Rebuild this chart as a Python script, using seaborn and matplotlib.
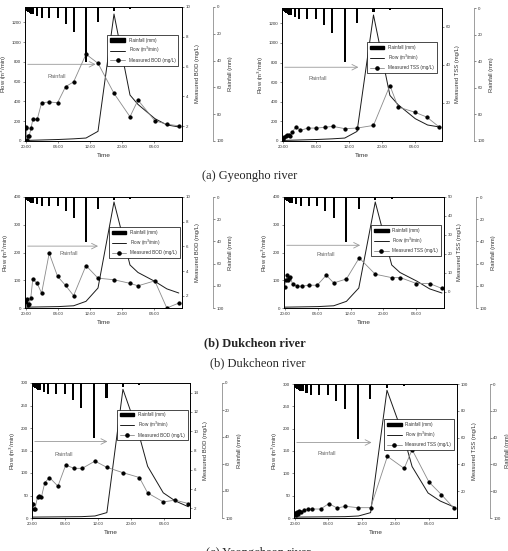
import seaborn as sns
import matplotlib.pyplot as plt
from matplotlib.patches import Patch
from matplotlib.lines import Line2D
from matplotlib.ticker import MultipleLocator

# --- rainfall (same storm event on every panel), hours after 20:00 ---
rain_hours = [0.1, 0.35, 0.6, 0.85, 1.1, 1.35, 1.6, 1.85, 2.8, 3.9, 5.8, 7.9, 9.9, 11.9, 15.0, 18.0, 22.0, 26.0]
rain_mm = [2.5, 3.0, 3.5, 4.0, 4.5, 5.0, 5.0, 5.5, 6.5, 8.4, 8.0, 8.0, 12.7, 18.8, 40.8, 11.0, 2.7, 1.5]

# --- (a) Gyeongho river ---
flow_a_hours = [0, 8, 11.9, 15.0, 18.0, 22.0, 26.0, 28.0, 32.2, 35.2, 38.2]
flow_a = [6, 15, 22, 30, 98, 1285, 465, 370, 227, 163, 142]
bod_a_hours = [0, 0.1, 0.2, 0.6, 0.8, 1.25, 1.7, 2.8, 3.9, 5.8, 7.9, 9.9, 11.9, 15.0, 18.0, 22.0, 26.0, 28.0, 32.2, 35.2, 38.2]
bod_a = [1.84, 1.95, 1.06, 1.33, 1.35, 1.84, 2.45, 2.45, 3.57, 3.62, 3.57, 4.65, 4.97, 6.83, 6.22, 4.2, 2.63, 3.75, 2.36, 2.13, 2.02]
tss_a_hours = [0, 0.3, 0.65, 1.0, 1.3, 1.6, 2.2, 3.1, 4.2, 6.0, 8.1, 10.1, 12.1, 15.0, 18.0, 22.0, 26.0, 28.0, 32.0, 35.0, 38.0]
tss_a = [1.2, 2.1, 2.5, 3.0, 3.0, 2.5, 4.7, 7.4, 5.6, 6.8, 6.8, 7.2, 7.7, 6.5, 6.8, 8.2, 29.2, 17.9, 15.2, 12.6, 7.4]

# --- (b) Dukcheon river ---
flow_b_hours = [0, 8, 11.9, 15.0, 18.0, 22.0, 26.0, 28.0, 32.2, 35.2, 38.2]
flow_b = [3, 5, 8, 24, 72, 382, 155, 128, 96, 69, 54]
bod_b_hours = [0, 0.2, 0.5, 0.75, 1.2, 1.7, 2.8, 3.9, 5.8, 7.9, 9.9, 11.9, 15.0, 18.0, 22.0, 26.0, 28.0, 32.2, 35.2, 38.2]
bod_b = [1.46, 1.73, 1.27, 1.33, 1.84, 3.34, 3.0, 2.2, 5.44, 3.56, 2.83, 2.0, 4.44, 3.42, 3.29, 3.0, 2.8, 3.2, 1.0, 1.4]
tss_b_hours = [0, 0.3, 0.57, 0.8, 1.1, 1.4, 1.9, 3.1, 4.1, 6.0, 7.9, 10.1, 11.9, 15.0, 18.1, 22.0, 26.0, 28.1, 32.0, 35.2, 38.2]
tss_b = [2.6, 6.5, 8.8, 6.1, 7.4, 7.9, 4.0, 3.0, 3.0, 3.5, 3.5, 8.8, 4.7, 6.8, 17.9, 9.3, 7.5, 7.5, 4.4, 4.4, 1.8]

# --- (c) Yeongcheon river ---
flow_c_hours = [0, 12.0, 15.2, 18.1, 22.0, 26.0, 28.0, 31.8, 34.7, 37.9]
flow_c = [2, 3, 4.5, 12, 286, 182, 115, 56, 38, 25]
bod_c_hours = [0, 0.15, 0.35, 0.6, 1.25, 1.7, 2.2, 3.0, 4.15, 6.2, 8.1, 10.1, 12.1, 15.2, 18.1, 22.0, 26.0, 28.0, 31.8, 34.7, 37.9]
bod_c = [2.45, 2.45, 1.9, 1.9, 3.2, 3.3, 3.2, 4.65, 5.2, 4.3, 6.5, 6.15, 6.15, 6.9, 6.25, 5.7, 5.2, 3.6, 2.67, 2.85, 2.5]
tss_c_hours = [0, 0.24, 0.5, 0.8, 1.1, 1.4, 2.2, 3.2, 4.2, 6.2, 8.1, 10.1, 12.1, 15.1, 18.1, 22.1, 26.1, 28.0, 32.0, 35.0, 37.9]
tss_c = [3.7, 2.5, 4.2, 3.2, 5.0, 4.2, 6.2, 6.7, 6.7, 6.7, 10.7, 7.5, 8.7, 7.7, 7.7, 46, 37, 51, 26.9, 17.4, 7.5]

time_ticks = [0, 8, 16, 24, 32]
time_labels = ['20:00', '04:00', '12:00', '20:00', '04:00']

W, H = 508, 551
TXT = '#333333'

sns.set_style('ticks')
plt.rcParams['font.family'] = ['Liberation Sans', 'DejaVu Sans']

fig = plt.figure(figsize=(W / 100, H / 100), dpi=100)


def px_rect(l, r, t, b):
    return [l / W, 1 - b / H, (r - l) / W, (b - t) / H]


def draw_panel(box, xlim, fh, fv, flim, fticks, mh, mv, mlim, mticks, name,
               arrow_y, arrow_end, lab_xy, leg_anchor):
    ax = fig.add_axes(px_rect(*box))
    ax2 = ax.twinx()
    ax3 = ax.twinx()

    sns.lineplot(x=fh, y=fv, ax=ax, color='#1a1a1a', lw=0.7, estimator=None, sort=False, legend=False)
    sns.lineplot(x=mh, y=mv, ax=ax2, color='#8a8a8a', lw=0.6, marker='o', markersize=2.3,
                 markerfacecolor='black', markeredgecolor='black', estimator=None, sort=False, legend=False)
    ax3.bar(rain_hours, rain_mm, width=0.5, color='black', linewidth=0)

    ax.set_xlim(*xlim)
    ax.set_ylim(*flim)
    ax.set_yticks(fticks)
    ax2.set_ylim(*mlim)
    ax2.set_yticks(mticks)
    ax3.set_ylim(100, 0)
    ax3.set_yticks(range(0, 101, 20))

    ax.set_xticks(time_ticks)
    ax.set_xticklabels(time_labels)
    ax.xaxis.set_minor_locator(MultipleLocator(4))

    ax.set_xlabel('Time', fontsize=4.6, color=TXT, labelpad=3)
    ax.set_ylabel('Flow (m$^3$/min)', fontsize=4.2, color=TXT, labelpad=2)
    ax2.set_ylabel(f'Measured {name} (mg/L)', fontsize=4.2, color=TXT, labelpad=3)
    ax3.set_ylabel('Rainfall (mm)', fontsize=4.2, color=TXT, labelpad=3)

    for a in (ax, ax2, ax3):
        a.tick_params(labelsize=3.2, length=1.6, width=0.4, colors=TXT, pad=1)
        a.tick_params(which='minor', length=1.0, width=0.3)
        for s in a.spines.values():
            s.set_linewidth(0.6)
            s.set_color('black')
    ax2.patch.set_visible(False)
    ax3.patch.set_visible(False)
    for s in ('left', 'top', 'bottom'):
        ax3.spines[s].set_visible(False)
    ax3.spines['right'].set_position(('axes', 1.2))
    ax3.spines['right'].set_color('#777777')
    ax3.spines['right'].set_linewidth(0.5)

    ax.annotate('', xy=(arrow_end, arrow_y), xytext=(xlim[0], arrow_y),
                arrowprops=dict(arrowstyle='->', color='#999999', lw=0.6))
    ax.text(lab_xy[0], lab_xy[1], 'Rainfall', fontsize=4, color='#666666', ha='center', va='center')

    handles = [
        Patch(facecolor='black', edgecolor='black', label='Rainfall (mm)'),
        Line2D([], [], color='#1a1a1a', lw=0.7, label='Flow (m$^3$/min)'),
        Line2D([], [], color='#8a8a8a', lw=0.6, marker='o', ms=2.3, mfc='black', mec='black',
               label=f'Measured {name} (mg/L)'),
    ]
    leg = ax3.legend(handles=handles, loc='upper right', bbox_to_anchor=leg_anchor, fontsize=3.3,
                     frameon=True, fancybox=False, edgecolor='black', framealpha=1,
                     borderpad=0.6, handlelength=3.2, labelspacing=0.55, handletextpad=0.8)
    leg.get_frame().set_linewidth(0.5)
    for t in leg.get_texts():
        t.set_color(TXT)


draw_panel((25, 182, 7, 141), (-0.25, 39.0), flow_a_hours, flow_a, (0, 1356), range(0, 1201, 200),
           bod_a_hours, bod_a, (1, 10), [2, 4, 6, 8, 10], 'BOD', 776, 18.1, (7.7, 655), (0.99, 0.81))
draw_panel((282, 442, 8, 141), (-0.3, 38.7), flow_a_hours, flow_a, (0, 1356), range(0, 1201, 200),
           tss_a_hours, tss_a, (0, 70), [20, 40, 60], 'TSS', 752, 19.0, (8.3, 634), (0.98, 0.76))
draw_panel((25, 182, 197, 308), (-0.25, 39.0), flow_b_hours, flow_b, (0, 400), range(0, 401, 100),
           bod_b_hours, bod_b, (1, 10), [2, 4, 6, 8, 10], 'BOD', 223, 18.7, (10.6, 197), (1.0, 0.75))
draw_panel((284, 444, 197, 308), (-0.17, 38.7), flow_b_hours, flow_b, (0, 400), range(0, 401, 100),
           tss_b_hours, tss_b, (-8.5, 50), range(0, 51, 10), 'TSS', 226, 19.0, (9.95, 194), (0.995, 0.765))
draw_panel((32, 190, 383, 518), (-0.1, 38.3), flow_c_hours, flow_c, (0, 300), range(0, 301, 50),
           bod_c_hours, bod_c, (1, 15), range(2, 15, 2), 'BOD', 170, 18.9, (7.5, 142), (1.0, 0.82))
draw_panel((294, 457, 384, 518), (-0.17, 38.7), flow_c_hours, flow_c, (0, 300), range(0, 301, 50),
           tss_c_hours, tss_c, (0, 100), range(20, 101, 20), 'TSS', 169, 19.0, (7.6, 145), (0.995, 0.755))

serif = ['Liberation Serif', 'DejaVu Serif']
fig.text(250 / W, 1 - 176 / H, '(a) Gyeongho river', ha='center', va='center', fontsize=9, family=serif)
fig.text(255 / W, 1 - 343 / H, '(b) Dukcheon river', ha='center', va='center', fontsize=9,
         family=serif, weight='bold')
fig.text(258 / W, 1 - 363 / H, '(b) Dukcheon river', ha='center', va='center', fontsize=9, family=serif)
fig.text(258 / W, 1 - 553 / H, '(c) Yeongcheon river', ha='center', va='center', fontsize=9, family=serif)

fig.savefig('out.png', dpi=100)
